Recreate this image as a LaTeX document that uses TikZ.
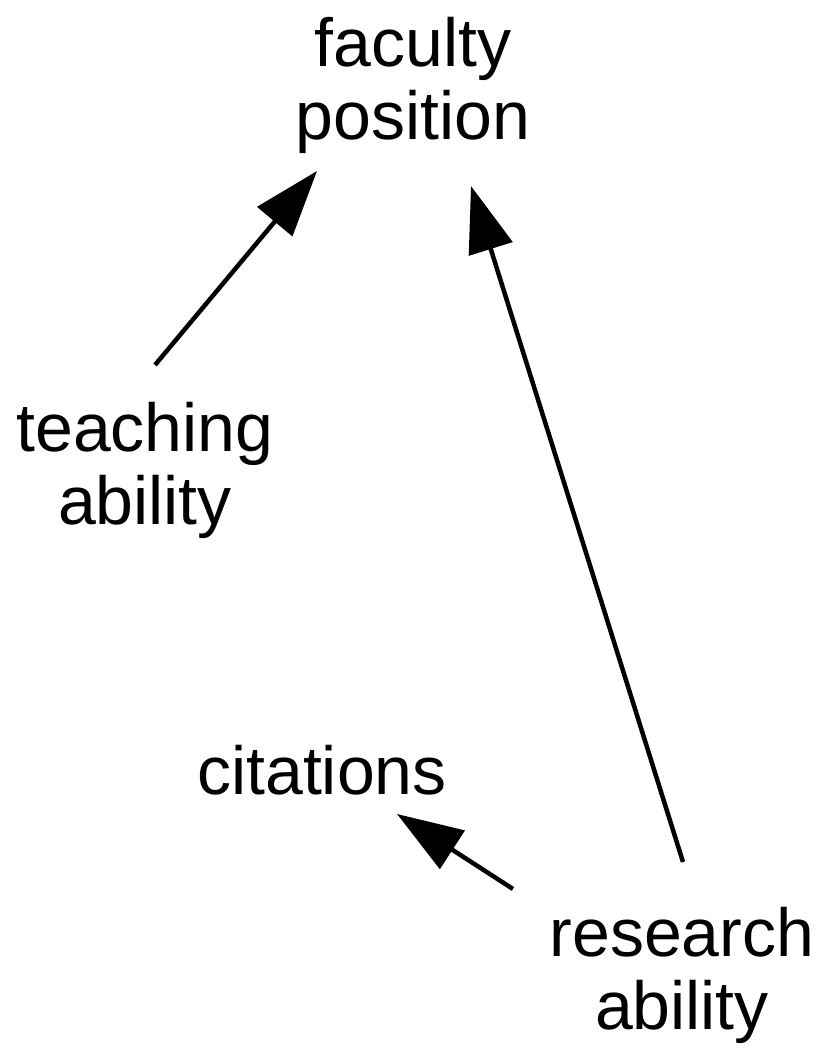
\documentclass[tikz,border=0pt]{standalone}
\usepackage{fontspec}
\setmainfont{Liberation Sans}
\usetikzlibrary{arrows.meta}
\begin{document}
\begin{tikzpicture}[x=1pt,y=1pt,
  label/.style={align=center, inner sep=0pt, anchor=base,
    font=\fontsize{68}{73}\selectfont},
  link/.style={line width=4.5pt, -{Triangle[length=66pt,width=45pt]}}]
  \useasboundingbox (0,0) rectangle (823,1054);
  % labels (anchored at the baseline of their last line)
  \node[label] (fac) at (413,914) {faculty\\position};
  \node[label] (teach) at (145,529) {teaching\\ability};
  \node[label] (cit) at (322,259) {citations};
  \node[label] (res) at (682,24) {research\\ability};
  % connector ends
  \coordinate (teachOut) at (155,689);
  \coordinate (facInL) at (317,883);
  \coordinate (resOutU) at (683,192);
  \coordinate (facInR) at (471,868);
  \coordinate (resOutL) at (513,165);
  \coordinate (citIn) at (397,240);
  % connectors
  \draw[link] (teachOut) -- (facInL);
  \draw[link] (resOutU) -- (facInR);
  \draw[link] (resOutL) -- (citIn);
\end{tikzpicture}
\end{document}
